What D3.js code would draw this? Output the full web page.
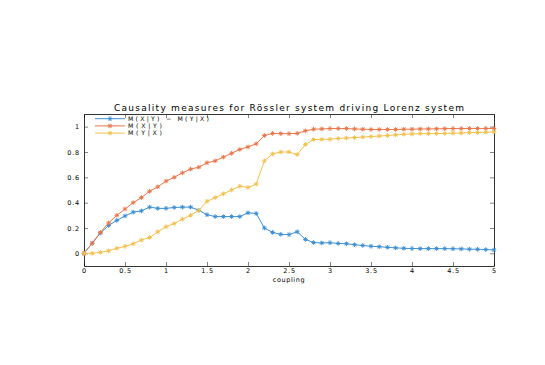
<!DOCTYPE html>
<html>
<head>
<meta charset="utf-8">
<script src="https://cdn.jsdelivr.net/npm/d3@7"></script>
<style>
  body { margin: 0; background: #fff; }
  text { font-family: "DejaVu Sans", "Liberation Sans", sans-serif; fill: #000; }
</style>
</head>
<body>
<div id="chart"></div>
<script>
var coupling = d3.range(51).map(function(i) { return +(i / 10).toFixed(1); });

var diffVals = [0, 0.08, 0.16, 0.22, 0.26, 0.295, 0.325, 0.335, 0.365, 0.355,
  0.355, 0.362, 0.365, 0.365, 0.34, 0.305, 0.29, 0.29, 0.29, 0.29,
  0.32, 0.315, 0.20, 0.165, 0.15, 0.148, 0.17, 0.11, 0.085, 0.082,
  0.084, 0.078, 0.076, 0.068, 0.062, 0.056, 0.052, 0.048, 0.043, 0.04,
  0.038, 0.037, 0.037, 0.037, 0.037, 0.036, 0.035, 0.033, 0.032, 0.03, 0.027];

var mxyVals = [0, 0.08, 0.165, 0.24, 0.3, 0.35, 0.4, 0.44, 0.49, 0.525,
  0.57, 0.6, 0.635, 0.665, 0.68, 0.715, 0.73, 0.76, 0.79, 0.82,
  0.84, 0.865, 0.93, 0.947, 0.945, 0.945, 0.947, 0.967, 0.98, 0.982,
  0.985, 0.985, 0.985, 0.982, 0.98, 0.978, 0.978, 0.978, 0.978, 0.98,
  0.98, 0.982, 0.982, 0.983, 0.984, 0.985, 0.985, 0.986, 0.986, 0.986, 0.986];

var myxVals = [0, 0.0, 0.008, 0.02, 0.04, 0.055, 0.075, 0.105, 0.125, 0.17,
  0.21, 0.235, 0.27, 0.3, 0.34, 0.41, 0.44, 0.47, 0.5, 0.53,
  0.52, 0.547, 0.73, 0.785, 0.8, 0.8, 0.78, 0.86, 0.898, 0.9,
  0.901, 0.907, 0.91, 0.914, 0.918, 0.922, 0.926, 0.93, 0.935, 0.94,
  0.942, 0.945, 0.945, 0.946, 0.947, 0.949, 0.95, 0.953, 0.954, 0.956, 0.959];

var seriesNames = ["M(X|Y) \u2212 M(Y|X)", "M(X|Y)", "M(Y|X)"];
var seriesColors = ["#3d8fd1", "#e8774a", "#f2c14e"];
var xTicks = [0, 0.5, 1, 1.5, 2, 2.5, 3, 3.5, 4, 4.5, 5];
var yTicks = [0, 0.2, 0.4, 0.6, 0.8, 1];

var width = 545, height = 365;
var margin = { top: 114, right: 51, bottom: 99, left: 84 };
var innerW = width - margin.left - margin.right,
    innerH = height - margin.top - margin.bottom;

var svg = d3.select("#chart").append("svg")
  .attr("width", width)
  .attr("height", height);

var g = svg.append("g")
  .attr("transform", "translate(" + margin.left + "," + margin.top + ")");

var x = d3.scaleLinear().domain([0, 5]).range([0, innerW]);
var y = d3.scaleLinear().domain([-0.1, 1.1]).range([innerH, 0]);

var fmt = function(d) { return String(d); };

// axes, MATLAB style: ticks pointing inward, box on
g.append("g")
  .attr("transform", "translate(0," + innerH + ")")
  .call(d3.axisBottom(x).tickValues(xTicks).tickFormat(fmt).tickSizeInner(-4).tickSizeOuter(0).tickPadding(2.5));
g.append("g")
  .call(d3.axisTop(x).tickValues(xTicks).tickFormat("").tickSizeInner(-4).tickSizeOuter(0));
g.append("g")
  .call(d3.axisLeft(y).tickValues(yTicks).tickFormat(fmt).tickSizeInner(-4).tickSizeOuter(0).tickPadding(4));
g.append("g")
  .attr("transform", "translate(" + innerW + ",0)")
  .call(d3.axisRight(y).tickValues(yTicks).tickFormat("").tickSizeInner(-4).tickSizeOuter(0));

g.selectAll(".domain").attr("stroke", "#000").attr("stroke-width", 0.8);
g.selectAll(".tick line").attr("stroke", "#333").attr("stroke-width", 0.6);
g.selectAll(".tick text")
  .attr("font-size", 6.5)
  .attr("letter-spacing", 0.8)
  .attr("font-family", "DejaVu Sans, sans-serif");

var allSeries = [diffVals, mxyVals, myxVals];

var line = d3.line()
  .x(function(d, i) { return x(coupling[i]); })
  .y(function(d) { return y(d); });

function star(sel, cx, cy, color) {
  var r = 2.3;
  var p = sel.append("g").attr("transform", "translate(" + cx + "," + cy + ")")
    .attr("stroke", color).attr("stroke-width", 1);
  p.append("line").attr("x1", -r).attr("x2", r).attr("y1", 0).attr("y2", 0);
  p.append("line").attr("x1", 0).attr("x2", 0).attr("y1", -r).attr("y2", r);
  p.append("line").attr("x1", -r * 0.7).attr("x2", r * 0.7).attr("y1", -r * 0.7).attr("y2", r * 0.7);
  p.append("line").attr("x1", -r * 0.7).attr("x2", r * 0.7).attr("y1", r * 0.7).attr("y2", -r * 0.7);
}

allSeries.forEach(function(vals, k) {
  var sg = g.append("g");
  sg.append("path")
    .datum(vals)
    .attr("fill", "none")
    .attr("stroke", seriesColors[k])
    .attr("stroke-width", 1)
    .attr("d", line);
  vals.forEach(function(v, i) {
    star(sg, x(coupling[i]), y(v), seriesColors[k]);
  });
});

// legend (no box)
var legendWidths = [81, 34, 34];
var legend = svg.append("g").attr("transform", "translate(95,118.7)");
seriesNames.forEach(function(name, k) {
  var ly = k * 7.2;
  legend.append("line")
    .attr("x1", 0).attr("x2", 30).attr("y1", ly).attr("y2", ly)
    .attr("stroke", seriesColors[k]).attr("stroke-width", 1);
  star(legend, 15, ly, seriesColors[k]);
  legend.append("text")
    .attr("x", 33).attr("y", ly)
    .attr("dy", "0.36em")
    .attr("font-size", 6.2)
    .attr("textLength", legendWidths[k])
    .attr("lengthAdjust", "spacing")
    .text(name);
});

// title and x label
svg.append("text")
  .attr("x", margin.left + innerW / 2)
  .attr("y", 111)
  .attr("text-anchor", "middle")
  .attr("font-size", 9)
  .attr("textLength", 350)
  .attr("lengthAdjust", "spacing")
  .text("Causality measures for R\u00f6ssler system driving Lorenz system");

svg.append("text")
  .attr("x", margin.left + innerW / 2)
  .attr("y", 281.5)
  .attr("text-anchor", "middle")
  .attr("font-size", 6.5)
  .attr("letter-spacing", 0.6)
  .text("coupling");
</script>
</body>
</html>
